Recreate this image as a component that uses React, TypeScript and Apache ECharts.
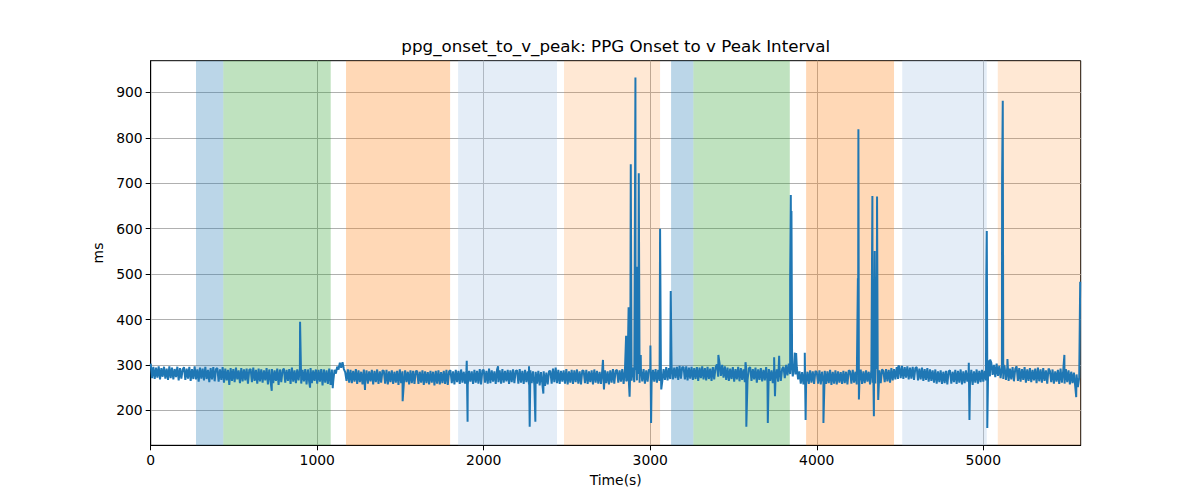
import React, { useEffect, useRef } from "react";
import * as echarts from "echarts";

const TITLE = "ppg_onset_to_v_peak: PPG Onset to v Peak Interval";
const X_NAME = "Time(s)";
const Y_NAME = "ms";

const X_TICKS = [0, 1000, 2000, 3000, 4000, 5000];
const Y_TICKS = [200, 300, 400, 500, 600, 700, 800, 900];

// baseline samples, one every SAMPLE_STEP seconds starting at 0 (25 per row = 200 s)
const SAMPLE_STEP = 8;
const baselineValues = [
  303, 271, 296, 269, 294, 272, 297, 268, 293, 274, 296, 270, 292, 267, 297, 271, 294, 268, 291, 273, 296, 266, 293, 270, 290,
  295, 267, 292, 270, 296, 265, 291, 269, 297, 268, 290, 263, 294, 270, 292, 266, 296, 269, 289, 262, 293, 268, 295, 264, 291,
  293, 263, 290, 267, 295, 261, 292, 266, 289, 256, 293, 265, 291, 262, 294, 268, 288, 260, 293, 264, 290, 266, 292, 259, 289,
  291, 262, 294, 265, 289, 259, 292, 264, 290, 261, 288, 266, 293, 257, 290, 263, 291, 260, 288, 265, 292, 256, 290, 262, 288,
  292, 261, 289, 265, 291, 258, 294, 263, 288, 260, 290, 266, 292, 259, 289, 264, 291, 257, 290, 262, 293, 260, 288, 265, 290,
  259, 289, 263, 291, 255, 290, 261, 288, 258, 292, 256, 290, 263, 289, 281, 296, 290, 305, 294, 306, 291, 284, 265, 290, 261,
  289, 260, 287, 263, 291, 258, 288, 262, 285, 257, 290, 261, 288, 259, 286, 264, 289, 257, 287, 262, 290, 258, 286, 261, 288,
  287, 259, 289, 257, 286, 262, 288, 258, 285, 261, 287, 256, 290, 260, 286, 258, 288, 262, 285, 257, 288, 260, 287, 258, 286,
  287, 258, 285, 261, 288, 256, 286, 260, 284, 257, 287, 261, 285, 255, 287, 259, 288, 257, 284, 260, 287, 258, 289, 256, 286,
  288, 260, 286, 257, 289, 262, 287, 258, 290, 261, 285, 259, 288, 256, 287, 263, 286, 258, 289, 261, 287, 259, 291, 257, 288,
  289, 261, 287, 259, 292, 260, 288, 263, 286, 258, 290, 262, 288, 259, 291, 261, 287, 264, 289, 258, 288, 262, 290, 260, 287,
  288, 259, 291, 261, 287, 258, 289, 262, 286, 257, 288, 260, 286, 256, 285, 259, 287, 255, 284, 258, 286, 254, 283, 257, 286,
  287, 259, 292, 262, 294, 260, 289, 258, 287, 263, 288, 259, 291, 257, 286, 261, 289, 258, 288, 262, 290, 259, 286, 257, 288,
  287, 260, 289, 258, 286, 262, 288, 257, 290, 261, 287, 259, 285, 258, 289, 263, 288, 260, 286, 257, 288, 261, 291, 259, 287,
  289, 261, 288, 263, 291, 258, 289, 264, 293, 260, 290, 265, 294, 262, 289, 266, 292, 261, 289, 264, 291, 259, 288, 263, 290,
  287, 260, 289, 263, 291, 261, 289, 265, 293, 263, 291, 267, 295, 266, 293, 269, 297, 268, 294, 271, 296, 267, 298, 270, 295,
  295, 268, 297, 266, 294, 270, 296, 267, 293, 269, 295, 265, 294, 271, 297, 268, 293, 266, 296, 269, 292, 265, 295, 268, 294,
  301, 274, 304, 276, 300, 272, 297, 267, 294, 265, 292, 269, 295, 263, 291, 268, 296, 264, 293, 267, 290, 262, 294, 266, 292,
  295, 265, 291, 268, 294, 261, 290, 267, 293, 264, 289, 266, 295, 262, 291, 265, 288, 260, 293, 267, 290, 263, 294, 265, 291,
  296, 271, 300, 277, 303, 280, 299, 275, 301, 279, 295, 268, 286, 259, 284, 257, 287, 260, 285, 258, 288, 261, 286, 258, 287,
  284, 259, 288, 257, 285, 261, 287, 258, 286, 260, 289, 256, 285, 259, 288, 257, 286, 261, 284, 258, 287, 260, 285, 257, 288,
  286, 259, 289, 261, 285, 257, 287, 262, 290, 258, 286, 260, 288, 263, 285, 257, 289, 261, 287, 259, 291, 262, 288, 260, 290,
  287, 262, 291, 264, 289, 261, 293, 266, 291, 268, 295, 269, 297, 271, 298, 269, 295, 272, 297, 268, 294, 270, 296, 267, 293,
  295, 266, 292, 268, 294, 265, 291, 267, 293, 263, 290, 265, 288, 261, 290, 259, 286, 262, 288, 258, 285, 260, 287, 257, 286,
  288, 259, 285, 262, 289, 258, 287, 261, 290, 257, 286, 260, 288, 263, 285, 258, 289, 256, 286, 261, 290, 259, 287, 262, 289,
  263, 287, 266, 285, 302, 275, 305, 278, 300, 273, 303, 276, 298, 271, 295, 269, 297, 267, 294, 265, 292, 268, 295, 264, 291,
  297, 265, 293, 263, 291, 267, 295, 261, 290, 265, 293, 262, 289, 266, 292, 260, 294, 264, 290, 261, 293, 265, 288, 259, 292,
  287, 262, 290, 259, 286, 263, 289, 258, 292, 261, 287, 259, 291, 262, 288, 257, 285, 260, 283, 253, 279, 251, 272,
];

// isolated spikes (time in s, value in ms)
const spikeTimes = [
  727, 897, 957, 1093, 1287, 1513, 1898, 1903, 2086, 2272, 2276, 2310, 2358, 2716, 2722,
  2855, 2862, 2870, 2876, 2883, 2890, 2911, 2916, 2922, 2926, 2931, 2936, 2943,
  3001, 3005, 3059, 3066, 3123, 3409, 3572, 3577, 3706, 3744, 3749, 3774,
  3840, 3844, 3848, 3852, 3868, 3876, 3928, 3933, 4040, 4247, 4250, 4253,
  4334, 4339, 4343, 4348, 4352, 4356, 4362, 4366, 4369, 4490, 4913, 4917,
  5018, 5021, 5024, 5030, 5041, 5113, 5117, 5121, 5145, 5487, 5558, 5582,
];
const spikeValues = [
  243, 395, 250, 249, 245, 220, 309, 175, 297, 297, 164, 175, 237, 311, 246,
  364, 268, 427, 230, 742, 285, 933, 300, 516, 280, 722, 275, 322,
  343, 172, 600, 246, 463, 322, 306, 164, 172, 317, 231, 320,
  487, 674, 639, 290, 327, 326, 327, 179, 172, 491, 819, 224,
  672, 300, 187, 551, 300, 494, 671, 290, 223, 298, 305, 179,
  488, 595, 161, 310, 312, 713, 882, 300, 313, 322, 229, 483,
];

// shaded phases
const spanStarts = [272, 436, 1173, 1846, 2482, 3125, 3259, 3936, 4513, 5087];
const spanEnds = [436, 1081, 1798, 2440, 3059, 3259, 3838, 4464, 5021, 5585];
const spanColors = [
  "rgba(31,119,180,0.3)",
  "rgba(44,160,44,0.3)",
  "rgba(255,127,14,0.3)",
  "rgba(174,199,232,0.33)",
  "rgba(255,127,14,0.18)",
  "rgba(31,119,180,0.3)",
  "rgba(44,160,44,0.3)",
  "rgba(255,127,14,0.3)",
  "rgba(174,199,232,0.33)",
  "rgba(255,127,14,0.18)",
];

const FONT = '"DejaVu Sans", sans-serif';

export default function App() {
  const ref = useRef<HTMLDivElement>(null);

  useEffect(() => {
    if (!ref.current) return;
    const chart = echarts.init(ref.current, undefined, { renderer: "svg" });

    const points: [number, number][] = baselineValues.map((v, i) => [i * SAMPLE_STEP, v]);
    spikeTimes.forEach((t, i) => points.push([t, spikeValues[i]]));
    points.sort((a, b) => a[0] - b[0]);

    const areas = spanStarts.map((s, i) => [
      { xAxis: s, itemStyle: { color: spanColors[i] } },
      { xAxis: spanEnds[i] },
    ]);

    const labelStyle = { color: "#000", fontSize: 13.9, fontFamily: FONT };
    const plain = (v: number) => String(v);

    chart.setOption({
      animation: false,
      backgroundColor: "#fff",
      grid: {
        left: 150.7,
        top: 60.7,
        right: 119.3,
        bottom: 54.7,
        show: true,
        borderColor: "#000",
        borderWidth: 1,
        backgroundColor: "transparent",
        containLabel: false,
      },
      graphic: [
        {
          type: "text",
          x: 615.7,
          y: 46,
          style: {
            text: TITLE,
            fill: "#000",
            font: `16.7px ${FONT}`,
            textAlign: "center",
            textVerticalAlign: "middle",
          },
        },
      ],
      xAxis: {
        type: "value",
        min: 0,
        max: 5585,
        name: X_NAME,
        nameLocation: "middle",
        nameGap: 28,
        nameTextStyle: labelStyle,
        axisLine: { show: true, onZero: false, lineStyle: { color: "#000", width: 1 } },
        axisTick: { show: true, length: 5, lineStyle: { color: "#000", width: 1 }, customValues: X_TICKS },
        axisLabel: { ...labelStyle, margin: 8, customValues: X_TICKS, formatter: plain },
        splitLine: { show: true, lineStyle: { color: "#b0b0b0", width: 1 } },
      },
      yAxis: {
        type: "value",
        min: 123,
        max: 970,
        name: Y_NAME,
        nameLocation: "middle",
        nameGap: 42,
        nameTextStyle: labelStyle,
        axisLine: { show: true, onZero: false, lineStyle: { color: "#000", width: 1 } },
        axisTick: { show: true, length: 5, lineStyle: { color: "#000", width: 1 }, customValues: Y_TICKS },
        axisLabel: { ...labelStyle, margin: 8, customValues: Y_TICKS, formatter: plain },
        splitLine: { show: true, lineStyle: { color: "#b0b0b0", width: 1 } },
      },
      series: [
        {
          type: "line",
          z: 1,
          data: [],
          silent: true,
          markArea: { silent: true, data: areas },
        },
        {
          type: "line",
          z: 3,
          data: points,
          showSymbol: false,
          symbol: "none",
          lineStyle: { color: "#1f77b4", width: 2 },
          itemStyle: { color: "#1f77b4" },
          clip: true,
        },
      ],
    });

    return () => chart.dispose();
  }, []);

  return (
    <div
      ref={ref}
      style={{ position: "fixed", left: 0, top: 0, width: 1200, height: 500 }}
    />
  );
}
